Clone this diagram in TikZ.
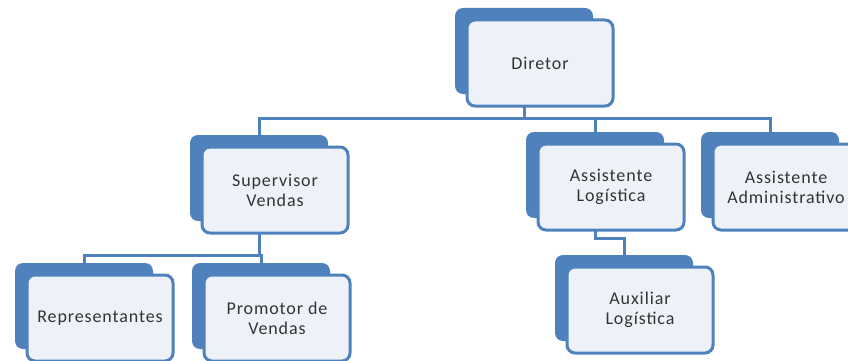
\documentclass[tikz,border=0pt]{standalone}
\usepackage{fontspec}
\setmainfont{Carlito}[LetterSpace=5]
\definecolor{orgblue}{HTML}{4F81BD}
\definecolor{orgpale}{HTML}{EEF2F8}
\definecolor{orgtext}{HTML}{333333}
\tikzset{font=\fontsize{18}{20}\selectfont}
\tikzset{
  backbox/.style={fill=orgblue, rounded corners=8pt, inner sep=0pt,
    minimum width=138pt, minimum height=86pt},
  frontbox/.style={draw=orgblue, line width=3pt, fill=orgpale, rounded corners=8pt,
    inner sep=0pt, minimum width=146pt, minimum height=86pt, align=center, text=orgtext},
  link/.style={draw=orgblue, line width=3pt}
}

\begin{document}
\begin{tikzpicture}[x=1pt, y=-1pt]
\useasboundingbox (0,0) rectangle (848,361);
% back cards
\node[backbox] (dir) at (524,51) {};
\node[backbox] (sup) at (259,178) {};
\node[backbox] (alog) at (595,175) {};
\node[backbox] (adm) at (770,175) {};
\node[backbox] (rep) at (84,306) {};
\node[backbox] (pro) at (261,306) {};
\node[backbox] (aux) at (624,298) {};
% lines
\draw[link] (dir.south) -- ++(0,24) -| (sup.north);
\draw[link] (dir.south) -- ++(0,24) -| (alog.north);
\draw[link] (dir.south) -- ++(0,24) -| (adm.north);
\draw[link] (sup.south) -- ++(0,34) -| (rep.north);
\draw[link] (sup.south) -- ++(0,34) -| (pro.north);
\draw[link] (alog.south) -- ++(0,20) -| (aux.north);
% front cards
\node[frontbox] (dirF) at ([shift={(16,12)}]dir) {Diretor};
\node[frontbox] (supF) at ([shift={(16,12)}]sup) {Supervisor\\Vendas};
\node[frontbox] (alogF) at ([shift={(16,12)}]alog) {Assistente\\Logística};
\node[frontbox] (admF) at ([shift={(16,12)}]adm) {Assistente\\Administrativo};
\node[frontbox] (repF) at ([shift={(16,12)}]rep) {Representantes};
\node[frontbox] (proF) at ([shift={(16,12)}]pro) {Promotor de\\Vendas};
\node[frontbox] (auxF) at ([shift={(16,12)}]aux) {Auxiliar\\Logística};
\end{tikzpicture}
\end{document}
